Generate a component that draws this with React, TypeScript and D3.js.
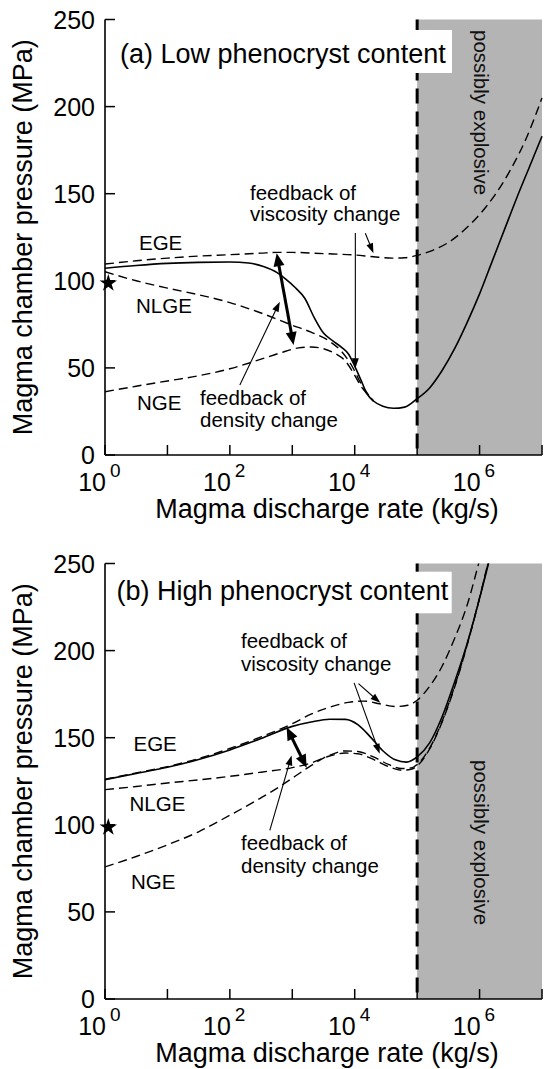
import React from "react";
import * as d3 from "d3";

// x values are log10 of discharge rate (kg/s), y values are pressure (MPa)
const xTickExps = [0, 1, 2, 3, 4, 5, 6, 7];
const xLabelExps = [0, 2, 4, 6];
const yTicks = [0, 50, 100, 150, 200, 250];

// (a) low phenocryst content
const aSolidQ = [0, 0.5, 1, 1.5, 2, 2.3, 2.55, 2.75, 2.9, 3.05, 3.2, 3.35, 3.5, 3.65, 3.8, 3.9, 4.0, 4.1, 4.2, 4.3, 4.45, 4.62, 4.8, 5.0, 5.2, 5.4, 5.6, 5.8, 6.0, 6.2, 6.4, 6.6, 6.8, 7.0];
const aSolidP = [107.2, 108.8, 110, 110.6, 110.8, 110.2, 108, 104.8, 100.8, 96, 90, 79, 70, 65.5, 61.5, 58, 51, 43, 35, 31, 28, 26.8, 27.5, 32.3, 38.5, 48.5, 61, 76, 92.5, 111, 129.5, 148, 165.5, 183];
const aEgeQ = [0, 0.5, 1, 1.5, 2, 2.5, 2.75, 3, 3.5, 4, 4.3, 4.6, 4.8, 5, 5.25, 5.5, 5.75, 6, 6.25, 6.5, 6.75, 7];
const aEgeP = [109.6, 111.5, 113, 114.2, 115, 115.9, 116.3, 116.3, 115.6, 114.8, 113.8, 113, 113.2, 114.6, 117.5, 122, 129, 138, 149.5, 164, 182, 205];
const aNlgeQ = [0, 0.5, 1, 1.5, 2, 2.5, 3, 3.3, 3.6, 3.8, 3.98, 4.1, 4.2, 4.3];
const aNlgeP = [105.2, 100, 95.8, 92, 87.5, 81.5, 74.5, 70.5, 65.2, 59, 49.5, 41, 35.5, 31];
const aNgeQ = [0, 0.5, 1, 1.5, 2, 2.5, 2.8, 3.1, 3.3, 3.5, 3.7, 3.85, 3.98, 4.1, 4.2, 4.3];
const aNgeP = [36.3, 39.5, 42.5, 45.5, 49.5, 55, 58.5, 61.5, 62, 61, 58, 54, 47, 39.5, 35, 31];

// (b) high phenocryst content
const bSolidQ = [0, 0.5, 1, 1.5, 2, 2.5, 3, 3.3, 3.6, 3.85, 4.05, 4.25, 4.45, 4.65, 4.83, 5.0, 5.2, 5.4, 5.6, 5.8, 6.0, 6.15, 6.3];
const bSolidP = [125.9, 129.5, 133, 137.5, 143, 149.5, 156.5, 159, 160.6, 160.5, 157.5, 150.5, 142.5, 137.3, 136, 139, 147, 162, 182, 204, 230, 251, 272];
const bEgeQ = [0, 0.5, 1, 1.5, 2, 2.5, 3, 3.3, 3.6, 3.9, 4.15, 4.4, 4.65, 4.85, 5.0, 5.2, 5.4, 5.6, 5.8, 6.0, 6.15];
const bEgeP = [126.1, 129.8, 133.4, 138, 143.8, 150.5, 158, 163.5, 167.5, 170.3, 171, 169.5, 167.9, 168.6, 171.5, 179.5, 191, 207, 226, 252, 272];
const bNlgeQ = [0, 0.5, 1, 1.5, 2, 2.5, 3, 3.3, 3.6, 3.85, 4.05, 4.3, 4.55, 4.75, 4.9, 5.0, 5.2, 5.4, 5.6, 5.8, 6.0, 6.15, 6.3];
const bNlgeP = [120.2, 122, 124, 125.8, 127.8, 130.2, 132.8, 135.5, 139.5, 141.2, 140.8, 137.5, 133.3, 131.3, 131.8, 133.8, 143.5, 159, 179, 203, 230, 252, 274];
const bNgeQ = [0, 0.5, 1, 1.5, 2, 2.5, 2.8, 3.05, 3.3, 3.6, 3.85, 4.05, 4.3, 4.55, 4.75, 4.9, 5.0, 5.2, 5.4, 5.6, 5.8, 6.0, 6.15, 6.3];
const bNgeP = [75.8, 81.8, 88.5, 96, 105.5, 115.5, 122, 128, 134, 140, 142.4, 142.1, 139, 134.5, 132.3, 132.6, 134.6, 144, 159.5, 179.5, 203.5, 230.5, 252.5, 274];

// arrows: [logQ, P] start and end
const aArrows = [
  { from: [2.75, 115.8], to: [3.02, 63.1], thick: true, both: true },
  { from: [2.16, 40.2], to: [2.8, 88], thick: false, both: false },
  { from: [4.01, 127.4], to: [4.01, 49.8], thick: false, both: false },
  { from: [4.17, 127.3], to: [4.3, 115.8], thick: false, both: false },
];
const bArrows = [
  { from: [2.91, 156], to: [3.23, 132.8], thick: true, both: true },
  { from: [2.64, 96.8], to: [2.99, 139.8], thick: false, both: false },
  { from: [4.06, 181], to: [4.41, 170], thick: false, both: false },
  { from: [3.99, 181.5], to: [4.4, 140.8], thick: false, both: false },
];
const starPoint = [0.053, 98.6];

const FONT = "'Liberation Sans', Arial, Helvetica, sans-serif";
const X0 = 105;
const X1 = 542;

function Arrow({ x1, y1, x2, y2, thick, both }) {
  const len = thick ? 13 : 10;
  const half = thick ? 5.5 : 3.5;
  const dx = x2 - x1;
  const dy = y2 - y1;
  const L = Math.hypot(dx, dy);
  const ux = dx / L;
  const uy = dy / L;
  const head = (tx, ty, sx, sy) => {
    const bx = tx - sx * len;
    const by = ty - sy * len;
    return `${tx},${ty} ${bx - sy * half},${by + sx * half} ${bx + sy * half},${by - sx * half}`;
  };
  const sxp = both ? x1 + ux * len * 0.7 : x1;
  const syp = both ? y1 + uy * len * 0.7 : y1;
  return (
    <g>
      <line x1={sxp} y1={syp} x2={x2 - ux * len * 0.7} y2={y2 - uy * len * 0.7}
        stroke="#000" strokeWidth={thick ? 3 : 1.1} />
      <polygon points={head(x2, y2, ux, uy)} fill="#000" />
      {both && <polygon points={head(x1, y1, -ux, -uy)} fill="#000" />}
    </g>
  );
}

function Panel({ off, id, curves, arrows, title, titleX, titleBox, texts, explosiveY }) {
  const x = d3.scaleLog().domain([1, 1e7]).range([X0, X1]);
  const y = d3.scaleLinear().domain([0, 250]).range([455 + off, 19.5 + off]);
  const line = d3.line<number[]>()
    .x(d => x(Math.pow(10, d[0])))
    .y(d => y(d[1]))
    .curve(d3.curveMonotoneX);
  const star = d3.symbol().type(d3.symbolStar).size(95)();
  const yb = y(0);
  const yt = y(250);
  const xv = x(1e5);

  return (
    <g>
      <defs>
        <clipPath id={id}>
          <rect x={X0} y={yt} width={X1 - X0 + 3} height={yb - yt} />
        </clipPath>
      </defs>
      <rect x={xv} y={yt} width={X1 - xv} height={yb - yt} fill="#b4b4b4" />
      <g clipPath={`url(#${id})`}>
        {curves.map((c, i) => (
          <path key={i} d={line(c.q.map((q, j) => [q, c.p[j]]))} fill="none" stroke="#000"
            strokeWidth={c.dashed ? 1.4 : 1.6} strokeDasharray={c.dashed ? "9,5" : null} />
        ))}
      </g>
      <line x1={xv} x2={xv} y1={yt} y2={yb} stroke="#000" strokeWidth={3} strokeDasharray="15,8" />
      <rect x={titleBox[0]} y={titleBox[1] + off} width={titleBox[2]} height={titleBox[3]} fill="#fff" />
      <text x={titleX[0]} y={titleX[1] + off} fontSize={27}>{title}</text>
      <text transform={`translate(481,${explosiveY + off}) rotate(90)`} fontSize={20.5}
        dominantBaseline="central" fill="#111">possibly explosive</text>

      {/* axes */}
      <line x1={X0} x2={X0} y1={yt} y2={yb} stroke="#000" strokeWidth={1.6} />
      <line x1={X0} x2={X1} y1={yb} y2={yb} stroke="#000" strokeWidth={1.6} />
      {yTicks.map(t => (
        <g key={t}>
          <line x1={X0} x2={X0 + 10} y1={y(t)} y2={y(t)} stroke="#000" strokeWidth={1.5} />
          <text x={X0 - 10} y={y(t)} dy="0.36em" textAnchor="end" fontSize={25}>{t}</text>
        </g>
      ))}
      {xTickExps.map(e => (
        <line key={e} x1={x(Math.pow(10, e))} x2={x(Math.pow(10, e))} y1={yb} y2={yb - 10}
          stroke="#000" strokeWidth={1.5} />
      ))}
      {xLabelExps.map(e => (
        <g key={e}>
          <text x={x(Math.pow(10, e)) + 1} y={yb + 36} textAnchor="end" fontSize={25}>10</text>
          <text x={x(Math.pow(10, e)) + 5} y={yb + 22} fontSize={19}>{e}</text>
        </g>
      ))}
      <text transform={`translate(32,${(yt + yb) / 2}) rotate(-90)`} textAnchor="middle" fontSize={27}>
        Magma chamber pressure (MPa)
      </text>
      <text x={327} y={518 + off} textAnchor="middle" fontSize={27}>Magma discharge rate (kg/s)</text>

      {texts.map((t, i) => (
        <text key={i} x={t.x} y={t.y + off} fontSize={20.5}>{t.s}</text>
      ))}
      {arrows.map((a, i) => (
        <Arrow key={i}
          x1={x(Math.pow(10, a.from[0]))} y1={y(a.from[1])}
          x2={x(Math.pow(10, a.to[0]))} y2={y(a.to[1])}
          thick={a.thick} both={a.both} />
      ))}
      <path d={star} transform={`translate(${x(Math.pow(10, starPoint[0]))},${y(starPoint[1])})`} fill="#000" />
    </g>
  );
}

export default function App() {
  const aCurves = [
    { q: aEgeQ, p: aEgeP, dashed: true },
    { q: aNlgeQ, p: aNlgeP, dashed: true },
    { q: aNgeQ, p: aNgeP, dashed: true },
    { q: aSolidQ, p: aSolidP, dashed: false },
  ];
  const bCurves = [
    { q: bEgeQ, p: bEgeP, dashed: true },
    { q: bNlgeQ, p: bNlgeP, dashed: true },
    { q: bNgeQ, p: bNgeP, dashed: true },
    { q: bSolidQ, p: bSolidP, dashed: false },
  ];
  const aTexts = [
    { s: "feedback of", x: 250, y: 200 },
    { s: "viscosity change", x: 250, y: 221 },
    { s: "feedback of", x: 200, y: 405 },
    { s: "density change", x: 200, y: 427 },
    { s: "EGE", x: 139, y: 250 },
    { s: "NLGE", x: 136, y: 313 },
    { s: "NGE", x: 137, y: 410 },
  ];
  const bTexts = [
    { s: "feedback of", x: 241, y: 104 },
    { s: "viscosity change", x: 241, y: 127 },
    { s: "feedback of", x: 241, y: 306 },
    { s: "density change", x: 241, y: 329 },
    { s: "EGE", x: 133.5, y: 207 },
    { s: "NLGE", x: 129.5, y: 267 },
    { s: "NGE", x: 131, y: 345 },
  ];
  return (
    <svg width={545} height={1069} fontFamily={FONT}
      style={{ position: "absolute", left: 0, top: 0, background: "#fff" }}>
      <Panel off={0} id="clipA" curves={aCurves} arrows={aArrows}
        title="(a) Low phenocryst content" titleX={[120, 63]} titleBox={[118, 30, 334, 43]}
        texts={aTexts} explosiveY={30} />
      <Panel off={544} id="clipB" curves={bCurves} arrows={bArrows}
        title="(b) High phenocryst content" titleX={[116.5, 56]} titleBox={[114.7, 27.7, 337, 41.6]}
        texts={bTexts} explosiveY={216} />
    </svg>
  );
}
